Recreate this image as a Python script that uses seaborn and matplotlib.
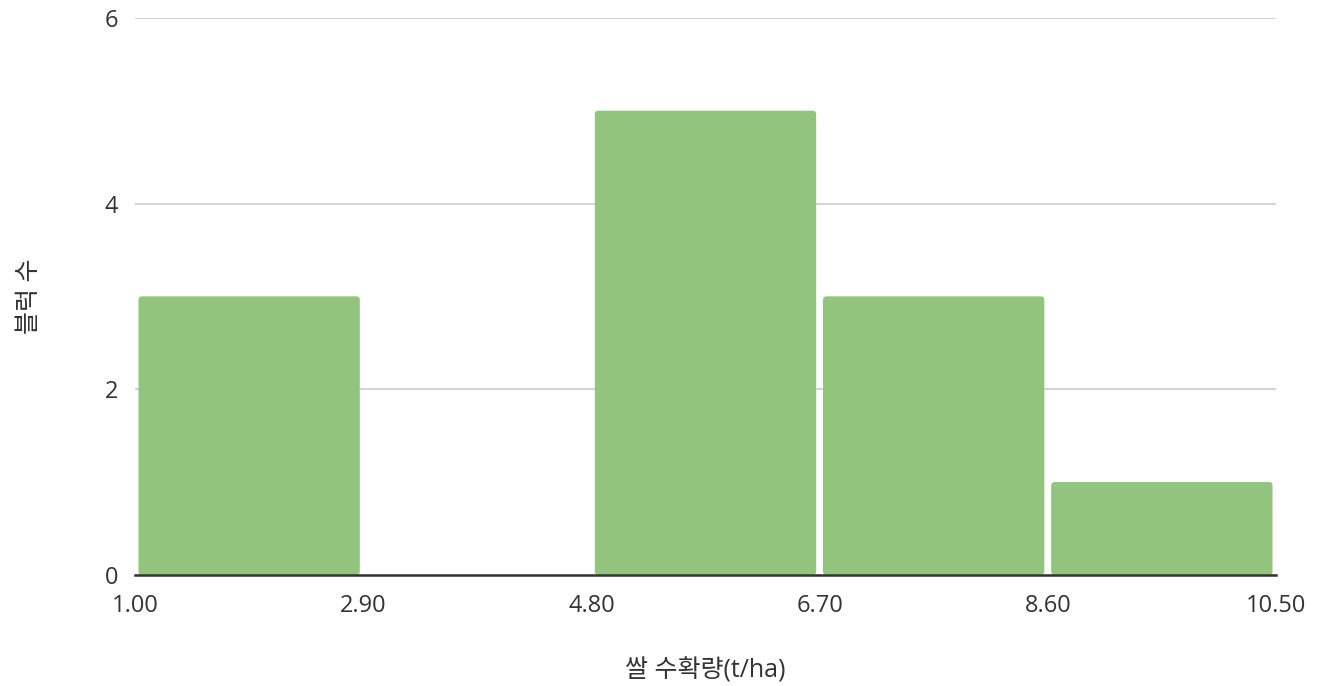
import matplotlib
matplotlib.use('Agg')
from matplotlib import pyplot as plt
from matplotlib.patches import FancyBboxPatch
import seaborn as sns

# bins and counts
bin_edges = [1.00, 2.90, 4.80, 6.70, 8.60, 10.50]
bin_mids = [1.95, 3.85, 5.75, 7.65, 9.55]
counts = [3, 0, 5, 3, 1]

sns.set_style("white")
plt.rcParams['font.family'] = ['Open Sans', 'Noto Sans CJK KR', 'DejaVu Sans']

fig = plt.figure(figsize=(13.24, 6.86), dpi=100)
ax = fig.add_axes([0.102, 0.162, 0.8617, 0.812])

sns.histplot(x=bin_mids, weights=counts, bins=bin_edges, shrink=0.97,
             color='#93c47d', alpha=1, linewidth=0, ax=ax, zorder=3)

ax.set_xlim(1.0, 10.5)
ax.set_ylim(0, 6)

# slightly rounded bar corners, like the original
for p in list(ax.patches):
    x, y = p.get_x(), p.get_y()
    w, h = p.get_width(), p.get_height()
    p.remove()
    if h <= 0:
        continue
    ax.add_patch(FancyBboxPatch((x, y), w, h,
                                boxstyle="round,pad=0,rounding_size=0.03",
                                mutation_aspect=1.29, facecolor='#93c47d',
                                edgecolor='none', zorder=3))

ax.set_xticks(bin_edges)
ax.set_xticklabels([f"{v:.2f}" for v in bin_edges])
ax.set_yticks([0, 2, 4, 6])
ax.yaxis.grid(True, color='#cccccc', linewidth=1.2, zorder=0)
ax.set_axisbelow(True)
for s in ['top', 'right', 'left']:
    ax.spines[s].set_visible(False)
ax.spines['bottom'].set_color('#333333')
ax.spines['bottom'].set_linewidth(1.8)
ax.spines['bottom'].set_zorder(4)
ax.tick_params(axis='both', length=0, labelsize=17, colors='#333333')
ax.tick_params(axis='x', pad=14)
ax.tick_params(axis='y', pad=12)

ax.set_xlabel("쌀 수확량(t/ha)", fontsize=18, color='#333333', labelpad=29)
ax.set_ylabel("블럭 수", fontsize=18, color='#333333', labelpad=45)

plt.savefig('out.png', dpi=100)
